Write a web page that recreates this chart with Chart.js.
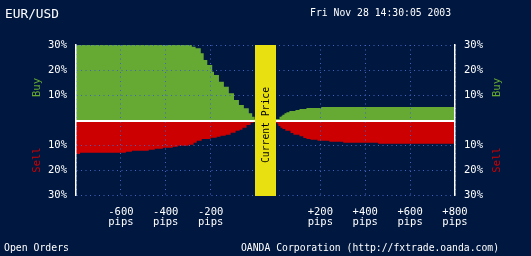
<!DOCTYPE html>
<html><head><meta charset="utf-8">
<script src="https://cdn.jsdelivr.net/npm/chart.js@4.4.0/dist/chart.umd.min.js"></script>
<style>html,body{margin:0;padding:0;background:#001840;overflow:hidden}#wrap{width:531px;height:256px;position:relative}canvas{display:block}</style>
</head><body><div id="wrap"><canvas id="c" width="531" height="256"></canvas></div>
<script>
// ---- data ----
const PAIR = 'EUR/USD';
const TIMESTAMP = 'Fri Nov 28 14:30:05 2003';
const FOOTER_LEFT = 'Open Orders';
const FOOTER_RIGHT = 'OANDA Corporation (http://fxtrade.oanda.com)';
const CENTER_LABEL = 'Current Price';
const BUY_LABEL = 'Buy';
const SELL_LABEL = 'Sell';
const PIP_TICKS_LEFT = [-800, -600, -400, -200];
const PIP_TICKS_RIGHT = [200, 400, 600, 800];
const PCT_TICKS = [-30, -20, -10, 0, 10, 20, 30];

// orders below the current price (negative pips)
const buyBelowPips = [-800, -284, -267, -244, -231, -215, -193, -185, -163, -141, -119, -96, -74, -52, -30, -15, -4, 0];
const buyBelowPct  = [30, 29.3, 28.7, 26.7, 24, 22, 19.3, 18, 15.3, 13.3, 10.7, 8, 6, 4.7, 2.7, 1.3, 0.4, 0];
const sellBelowPips = [-800, -782, -578, -551, -476, -449, -413, -369, -347, -298, -276, -262, -240, -200, -173, -156, -133, -111, -89, -71, -58, -40, -22, -9, 0];
const sellBelowPct  = [13.6, 13.1, 12.7, 12.3, 11.9, 11.5, 11.1, 10.7, 10.3, 9.9, 9.1, 8.3, 7.6, 7.1, 6.7, 6.3, 5.9, 5.1, 4.3, 3.9, 3.1, 2, 1.1, 0.4, 0];
// orders above the current price (positive pips)
const buyAbovePips = [0, 18, 27, 31, 40, 49, 62, 89, 107, 138, 204, 800];
const buyAbovePct  = [0.4, 1.3, 1.7, 2.1, 2.7, 3.1, 3.6, 4, 4.4, 4.8, 5.2, 5.2];
const sellAbovePips = [0, 9, 13, 22, 31, 44, 67, 80, 107, 124, 138, 156, 187, 240, 302, 458, 800];
const sellAbovePct  = [1.1, 1.6, 2.4, 3.1, 3.6, 4.3, 5.2, 5.9, 6.5, 7.2, 7.6, 7.9, 8.3, 8.7, 9.1, 9.5, 9.5];

// ---- styling / layout ----
const BG = '#001840', GREEN = '#66aa33', RED = '#cc0000', YELLOW = '#e8e010', GRID = '#4262c4';
const FONT = '"DejaVu Sans Mono", "Liberation Mono", monospace';
const GAP = 800 * 20 / 180; // axis units reserved for the "Current Price" band

function pts(pips, pct, right, sign) {
  return pips.map((p, i) => ({ x: right ? p + GAP : p, y: sign * pct[i] }));
}
function ds(data, color) {
  return { data, stepped: true, fill: 'origin', backgroundColor: color, borderWidth: 0, pointRadius: 0, pointHoverRadius: 0 };
}

const overlay = {
  id: 'overlay',
  beforeDraw(chart) {
    const ctx = chart.ctx;
    ctx.save(); ctx.fillStyle = BG; ctx.fillRect(0, 0, chart.width, chart.height); ctx.restore();
  },
  afterDraw(chart) {
    const ctx = chart.ctx, x = chart.scales.x, y = chart.scales.y, a = chart.chartArea;
    ctx.save();
    // zero line
    const y0 = Math.round(y.getPixelForValue(0));
    ctx.fillStyle = '#ffffff';
    ctx.fillRect(a.left, y0, a.right - a.left, 2);
    // current price band
    const x0 = Math.round(x.getPixelForValue(0)) - 1, x1 = Math.round(x.getPixelForValue(GAP)) + 1;
    ctx.fillStyle = YELLOW;
    ctx.fillRect(x0, a.top, x1 - x0, a.bottom - a.top + 1);
    ctx.fillStyle = '#000';
    ctx.font = '10px ' + FONT;
    ctx.textAlign = 'center'; ctx.textBaseline = 'middle';
    ctx.save(); ctx.translate((x0 + x1) / 2 + 0.5, (a.top + a.bottom) / 2 + 5); ctx.rotate(-Math.PI / 2);
    ctx.fillText(CENTER_LABEL, 0, 0, 76); ctx.restore();
    // header / footer
    ctx.textAlign = 'left'; ctx.textBaseline = 'alphabetic'; ctx.fillStyle = '#fff';
    ctx.font = '13px ' + FONT; ctx.fillText(PAIR, 5, 18, 54);
    ctx.font = '11px ' + FONT; ctx.fillText(TIMESTAMP, 310, 16, 141);
    ctx.font = '10.5px ' + FONT; ctx.fillText(FOOTER_LEFT, 4, 251, 65);
    ctx.fillText(FOOTER_RIGHT, 241, 251, 258);
    // Buy / Sell side labels
    const side = (txt, cx, cy, col) => {
      ctx.save(); ctx.translate(cx, cy); ctx.rotate(-Math.PI / 2);
      ctx.fillStyle = col; ctx.textAlign = 'center'; ctx.textBaseline = 'middle';
      ctx.fillText(txt, 0, 0); ctx.restore();
    };
    ctx.font = '10.5px ' + FONT;
    side(BUY_LABEL, 37.5, 87.5, GREEN); side(SELL_LABEL, 37.5, 160, RED);
    side(BUY_LABEL, 497.5, 87.5, GREEN); side(SELL_LABEL, 497.5, 160, RED);
    ctx.restore();
  }
};

const pctLabel = (v) => v === 0 ? '' : Math.abs(v) + '%';
const yTicksBuild = (s) => { s.ticks = PCT_TICKS.map(v => ({ value: v })); };

new Chart(document.getElementById('c'), {
  type: 'line',
  data: {
    datasets: [
      ds(pts(buyBelowPips, buyBelowPct, false, 1), GREEN),
      ds(pts(sellBelowPips, sellBelowPct, false, -1), RED),
      ds(pts(buyAbovePips, buyAbovePct, true, 1), GREEN),
      ds(pts(sellAbovePips, sellAbovePct, true, -1), RED)
    ]
  },
  options: {
    responsive: false, animation: false, events: [],
    layout: { padding: { top: 45, left: 0, right: 0, bottom: 0 } },
    plugins: { legend: { display: false }, tooltip: { enabled: false }, title: { display: false } },
    scales: {
      x: {
        type: 'linear', min: -800, max: 800 + GAP,
        afterBuildTicks: (s) => { s.ticks = PIP_TICKS_LEFT.map(v => ({ value: v })).concat(PIP_TICKS_RIGHT.map(v => ({ value: v + GAP }))); },
        afterFit: (s) => { s.height = 61; },
        grid: { color: GRID, lineWidth: 1, drawTicks: false, z: 1 },
        border: { display: false, dash: [1, 3.5] },
        ticks: {
          autoSkip: false, maxRotation: 0, minRotation: 0, color: '#fff', padding: 12,
          font: { family: FONT, size: 10.5, lineHeight: 1.0 },
          callback: (v) => {
            const p = v > 0 ? Math.round(v - GAP) : v;
            if (p === -800) return '';
            return [(p > 0 ? '+' : '') + p, 'pips'];
          }
        }
      },
      y: {
        position: 'left', min: -30, max: 30,
        afterBuildTicks: yTicksBuild,
        afterFit: (s) => { s.width = 76; },
        grid: { color: GRID, lineWidth: 1, drawTicks: false, z: 1 },
        border: { display: true, color: '#fff', width: 1.5, dash: [1, 3.5], z: 2 },
        ticks: { color: '#fff', padding: 9, font: { family: FONT, size: 10.5 }, callback: pctLabel }
      },
      y2: {
        position: 'right', min: -30, max: 30,
        afterBuildTicks: yTicksBuild,
        afterFit: (s) => { s.width = 76; },
        grid: { display: false, drawTicks: false },
        border: { display: true, color: '#fff', width: 1.5, z: 2 },
        ticks: { color: '#fff', padding: 9, font: { family: FONT, size: 10.5 }, callback: pctLabel }
      }
    }
  },
  plugins: [overlay]
});
</script>
</body></html>
